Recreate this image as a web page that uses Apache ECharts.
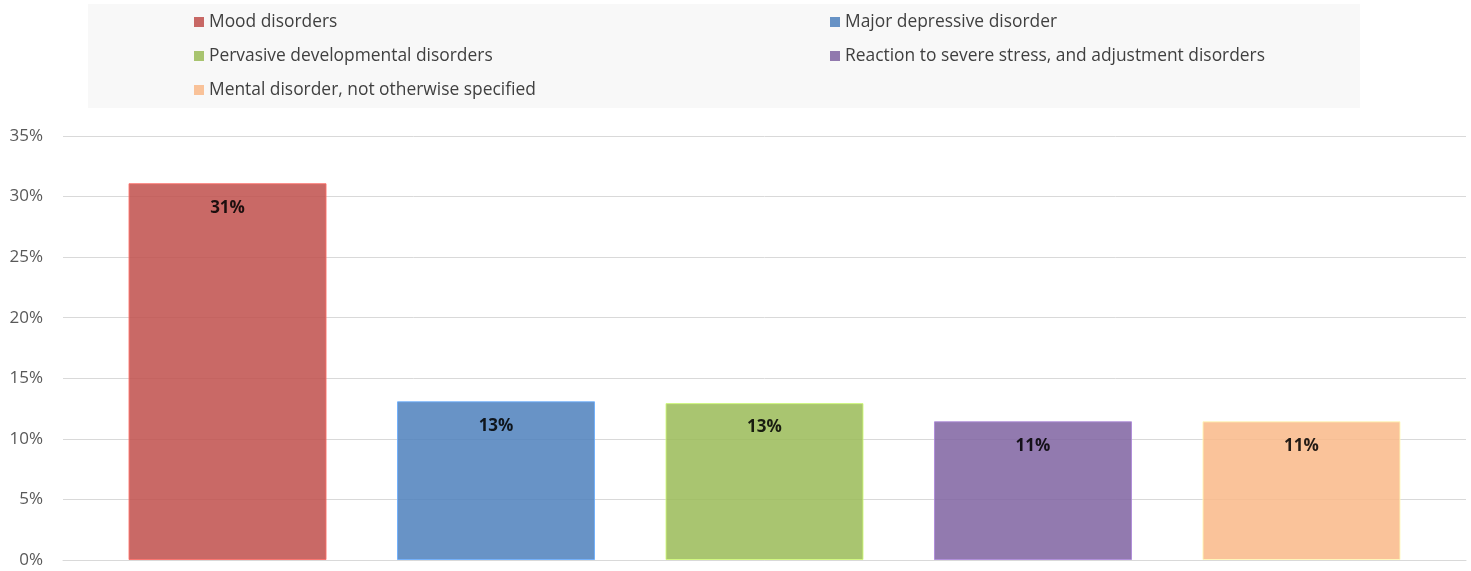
<!DOCTYPE html>
<html>
<head>
<meta charset="utf-8">
<script src="https://cdn.jsdelivr.net/npm/echarts@6/dist/echarts.min.js"></script>
<style>
html,body{margin:0;padding:0;background:#fff;}
#chart{width:1471px;height:571px;}
</style>
</head>
<body>
<div id="chart"></div>
<script>
const seriesNames = [
  "Mood disorders",
  "Major depressive disorder",
  "Pervasive developmental disorders",
  "Reaction to severe stress, and adjustment disorders",
  "Mental disorder, not otherwise specified"
];
const seriesValues = [31.1, 13.1, 12.95, 11.45, 11.45];
const seriesColors = ["#C0504D", "#4F81BD", "#9BBB59", "#8064A2", "#F9B989"];
const yTicks = [0, 5, 10, 15, 20, 25, 30, 35];

const chart = echarts.init(document.getElementById('chart'));
const series = seriesNames.map((name, i) => ({
  name: name,
  type: 'bar',
  data: [seriesValues[i]],
  barWidth: 198,
  barGap: '35.6%',
  itemStyle: {
    color: seriesColors[i],
    opacity: 0.86,
    borderColor: echarts.color.lift(seriesColors[i], -0.35),
    borderWidth: 1
  },
  label: {
    show: true,
    position: 'insideTop',
    distance: 16,
    formatter: p => Math.round(p.value) + '%',
    color: '#000',
    fontWeight: 'bold',
    fontSize: 17,
    fontFamily: 'Open Sans'
  }
}));

const legendText = {color: '#404040', fontSize: 17.4, fontFamily: 'Open Sans', lineHeight: 20};
const legendItemStyle = {borderWidth: 0, opacity: 0.86};
chart.setOption({
  animation: false,
  graphic: [{
    type: 'rect',
    shape: {x: 88, y: 4, width: 1272, height: 104},
    style: {fill: '#F8F8F8'},
    z: -10
  }],
  legend: [{
    data: [seriesNames[0], seriesNames[2], seriesNames[4]],
    orient: 'vertical',
    left: 189, top: 7,
    itemWidth: 10, itemHeight: 10, itemGap: 14,
    icon: 'rect',
    itemStyle: legendItemStyle,
    textStyle: legendText
  }, {
    data: [seriesNames[1], seriesNames[3]],
    orient: 'vertical',
    left: 825, top: 7,
    itemWidth: 10, itemHeight: 10, itemGap: 14,
    icon: 'rect',
    itemStyle: legendItemStyle,
    textStyle: legendText
  }],
  grid: {left: 63, right: 5, top: 136, bottom: 11, containLabel: false},
  xAxis: {
    type: 'category',
    data: [''],
    axisLine: {lineStyle: {color: '#D9D9D9'}},
    axisTick: {show: false},
    axisLabel: {show: false}
  },
  yAxis: {
    type: 'value',
    min: yTicks[0],
    max: yTicks[yTicks.length - 1],
    interval: 5,
    axisLine: {show: false},
    axisTick: {show: false},
    splitLine: {lineStyle: {color: '#D9D9D9', width: 1}},
    axisLabel: {formatter: '{value}%', color: '#595959', fontSize: 17, fontFamily: 'Open Sans', margin: 20}
  },
  series: series
});
</script>
</body>
</html>
